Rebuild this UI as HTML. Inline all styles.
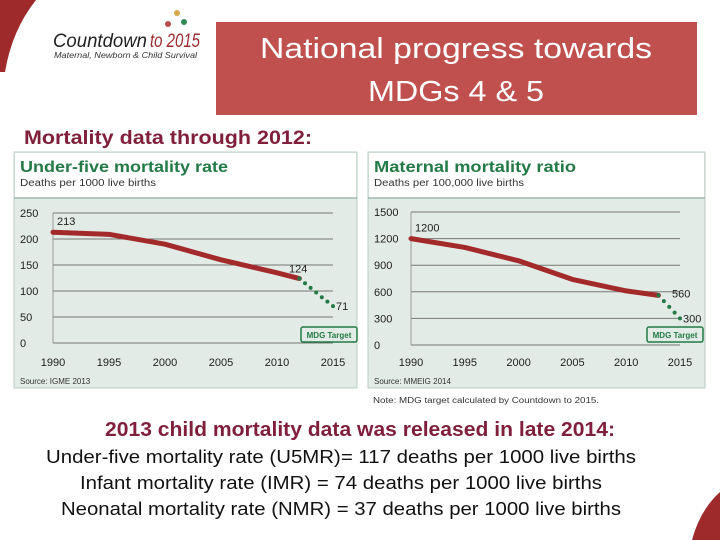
<!DOCTYPE html>
<html><head><meta charset="utf-8"><style>
html,body{margin:0;padding:0;background:#fff;width:720px;height:540px;overflow:hidden}
svg{display:block;font-family:"Liberation Sans",sans-serif}
</style></head><body>
<svg id="s" width="720" height="540" viewBox="0 0 720 540">
<path d="M0 0 L36 0 Q12 30 5 72 L0 72 Z" fill="#9e2a2b"/>
<path d="M720 492 Q700 510 692 540 L720 540 Z" fill="#9e2a2b"/>
<g>
<text x="53" y="47" font-size="19" font-style="italic" fill="#222" textLength="94" lengthAdjust="spacingAndGlyphs">Countdown</text>
<text x="150" y="47" font-size="19" font-style="italic" fill="#9e2a2b" textLength="50" lengthAdjust="spacingAndGlyphs">to 2015</text>
<text x="54" y="58" font-size="8" font-style="italic" fill="#333" textLength="143" lengthAdjust="spacingAndGlyphs">Maternal, Newborn &amp; Child Survival</text>
<circle cx="168" cy="24" r="3" fill="#b5504a"/><circle cx="177" cy="13" r="3" fill="#d8a94a"/><circle cx="184" cy="22" r="3" fill="#2e8b57"/>
</g>
<rect x="216" y="22" width="481" height="93" fill="#c0504d"/>
<text x="456" y="58" font-size="29" fill="#fff" text-anchor="middle" textLength="392" lengthAdjust="spacingAndGlyphs">National progress towards</text>
<text x="456" y="101" font-size="29" fill="#fff" text-anchor="middle" textLength="176" lengthAdjust="spacingAndGlyphs">MDGs 4 &amp; 5</text>
<text x="24" y="144" font-size="19" font-weight="bold" fill="#7f1f3a" textLength="288" lengthAdjust="spacingAndGlyphs">Mortality data through 2012:</text>
<g id="c1"></g>
<g id="c2"></g>
<text x="373" y="403" font-size="8" fill="#333" textLength="226" lengthAdjust="spacingAndGlyphs">Note: MDG target calculated by Countdown to 2015.</text>
<text x="360" y="436" font-size="20" font-weight="bold" fill="#7f1f3a" text-anchor="middle" textLength="510" lengthAdjust="spacingAndGlyphs">2013 child mortality data was released in late 2014:</text>
<text x="341" y="463" font-size="18" fill="#111" text-anchor="middle" textLength="590" lengthAdjust="spacingAndGlyphs">Under-five mortality rate (U5MR)= 117 deaths per 1000 live births</text>
<text x="341" y="489" font-size="18" fill="#111" text-anchor="middle" textLength="522" lengthAdjust="spacingAndGlyphs">Infant mortality rate (IMR) = 74 deaths per 1000 live births</text>
<text x="341" y="515" font-size="18" fill="#111" text-anchor="middle" textLength="560" lengthAdjust="spacingAndGlyphs">Neonatal mortality rate (NMR) = 37 deaths per 1000 live births</text>
</svg>
<script>
const u5Years=[1990,1995,2000,2005,2010,2012];
const u5Values=[213,209,190,160,135,124];
const u5TargetYears=[2012,2013,2014,2015];
const u5TargetValues=[124,106,88,71];
const u5Ticks=[0,50,100,150,200,250];
const mmYears=[1990,1995,2000,2005,2010,2013];
const mmValues=[1200,1100,950,740,610,560];
const mmTargetYears=[2013,2014,2015];
const mmTargetValues=[560,430,300];
const mmTicks=[0,300,600,900,1200,1500];
const xTicks=[1990,1995,2000,2005,2010,2015];
const NS='http://www.w3.org/2000/svg';
function mk(p,t,a){const e=document.createElementNS(NS,t);for(const k in a)e.setAttribute(k,a[k]);p.appendChild(e);return e;}
function chart(g,o){
  const bg=mk(g,'rect',{x:o.px,y:152,width:o.pw,height:236,fill:'#e3ebe6',stroke:'#b9cfc2'});
  
  const hd=mk(g,'rect',{x:o.px+1,y:153,width:o.pw-2,height:45,fill:'#fff'});
  
  mk(g,'line',{x1:o.px,x2:o.px+o.pw,y1:198,y2:198,stroke:'#7a9e88','stroke-width':1});
  let t=mk(g,'text',{x:o.px+6,y:172,'font-size':16,'font-weight':'bold',fill:'#237a46',textLength:o.tl,lengthAdjust:'spacingAndGlyphs'});t.textContent=o.title;
  
  t=mk(g,'text',{x:o.px+6,y:186,'font-size':10,fill:'#333',textLength:o.sl,lengthAdjust:'spacingAndGlyphs'});t.textContent=o.sub;
  
  const X=v=>o.x0+(v-1990)/25*(o.x1-o.x0);
  const Y=v=>o.y0+(v-0)/o.max*(o.y1-o.y0);
  o.ticks.forEach(v=>{
    const l=mk(g,'line',{x1:o.x0,x2:o.x1,y1:Y(v),y2:Y(v),stroke:'#777','stroke-width':1});
    
    const tx=mk(g,'text',{x:o.px+6,y:Y(v)+4,'font-size':11,fill:'#222'});tx.textContent=v;
    
  });
  mk(g,'line',{x1:o.x0,x2:o.x0,y1:Y(0),y2:Y(o.max),stroke:'#999'});
  xTicks.forEach(v=>{const tx=mk(g,'text',{x:X(v),y:366,'font-size':11,fill:'#222','text-anchor':'middle'});tx.textContent=v;
    });
  const d=o.yrs.map((y,i)=>(i?'L':'M')+X(y)+' '+Y(o.vals[i])).join(' ');
  const p=mk(g,'path',{d:d,fill:'none',stroke:'#a32a2a','stroke-width':5,'stroke-linejoin':'round','stroke-linecap':'round'});
  
  for(let i=0;i<o.ty.length-1;i++){for(let k=0;k<2;k++){const f=k/2;
    const c=mk(g,'circle',{cx:X(o.ty[i]+f*(o.ty[i+1]-o.ty[i])),cy:Y(o.tv[i]+f*(o.tv[i+1]-o.tv[i])),r:2,fill:'#237a46'});
    }}
  const le=mk(g,'circle',{cx:X(o.ty[o.ty.length-1]),cy:Y(o.tv[o.tv.length-1]),r:2,fill:'#237a46'});
  
  [[X(o.yrs[0])+4,Y(o.vals[0])-7,o.vals[0]],[o.lx,Y(o.vals[o.vals.length-1])+o.ldy,o.vals[o.vals.length-1]],[X(2015)+3,Y(o.tv[o.tv.length-1])+4,o.tv[o.tv.length-1]]].forEach(a=>{
    const tx=mk(g,'text',{x:a[0],y:a[1],'font-size':11,fill:'#222'});tx.textContent=a[2];
    });
  const br=mk(g,'rect',{x:o.bx,y:327,width:56,height:15,fill:'#e3ebe6',stroke:'#237a46','stroke-width':1.5,rx:2});
  
  t=mk(g,'text',{x:o.bx+28,y:338,'font-size':8,'font-weight':'bold',fill:'#237a46','text-anchor':'middle'});t.textContent='MDG Target';
  t=mk(g,'text',{x:o.px+6,y:384,'font-size':8,fill:'#333'});t.textContent=o.src;
  
}
chart(document.getElementById('c1'),{px:14,pw:343,title:'Under-five mortality rate',tl:208,sub:'Deaths per 1000 live births',sl:136,
 x0:53,x1:333,y0:343,y1:213,max:250,ticks:u5Ticks,yrs:u5Years,vals:u5Values,ty:u5TargetYears,tv:u5TargetValues,lx:289,ldy:-6,bx:301,src:'Source: IGME 2013'});
chart(document.getElementById('c2'),{px:368,pw:337,title:'Maternal mortality ratio',tl:202,sub:'Deaths per 100,000 live births',sl:150,
 x0:411,x1:680,y0:345,y1:212,max:1500,ticks:mmTicks,yrs:mmYears,vals:mmValues,ty:mmTargetYears,tv:mmTargetValues,lx:672,ldy:2,bx:647,src:'Source: MMEIG 2014'});
</script>
</body></html>
